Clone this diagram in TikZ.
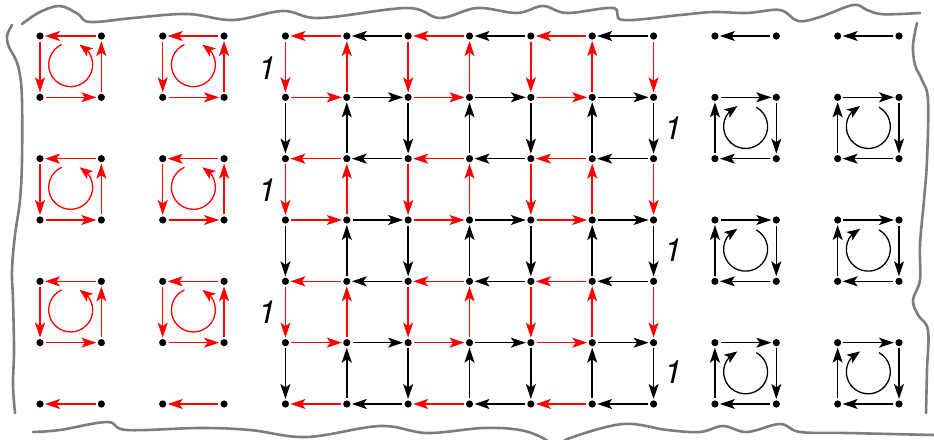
\documentclass[tikz,border=0pt]{standalone}
\usepackage{fontspec}
\setsansfont{TeX Gyre Heros}
\usetikzlibrary{arrows.meta,bending,calc}
\definecolor{myred}{RGB}{255,0,0}
\definecolor{bordergray}{RGB}{125,125,125}
\begin{document}
\begin{tikzpicture}[x=1pt,y=-1pt,
  dot/.style={circle,fill=black,inner sep=0pt,minimum size=7.2pt},
  edge/.style={line width=1.5pt,-{Stealth[length=15pt,width=10pt,inset=3.5pt]},shorten >=1.2pt,shorten <=2pt},
  circarrow/.style={line width=1.3pt,-{Stealth[length=13pt,width=10pt,inset=3pt]}},
  border/.style={draw=bordergray,line width=2.6pt,line cap=round,line join=round},
  lbl/.style={font=\sffamily\itshape\fontsize{32}{32}\selectfont,inner sep=0pt}]
\useasboundingbox (0,0) rectangle (934,439);

% all dots
\foreach \k in {0,...,14}{
  \foreach \j in {0,...,6}{
    \node[dot] (n\k-\j) at ({40+61.357*\k},{36+61.33*\j}) {};
  }
}

% main grid: columns 4..10
\foreach \j in {0,...,6}{
  \foreach \c in {0,...,5}{
    \pgfmathtruncatemacro\ka{\c+4}
    \pgfmathtruncatemacro\kb{\c+5}
    \ifodd\c\relax\def\ecol{black}\else\def\ecol{myred}\fi
    \ifodd\j\relax
      \draw[edge,\ecol] (n\ka-\j) -- (n\kb-\j);
    \else
      \draw[edge,\ecol] (n\kb-\j) -- (n\ka-\j);
    \fi
  }
}
\foreach \c in {0,...,6}{
  \foreach \j in {0,...,5}{
    \pgfmathtruncatemacro\kk{\c+4}
    \pgfmathtruncatemacro\jb{\j+1}
    \ifodd\j\relax\def\ecol{black}\else\def\ecol{myred}\fi
    \ifodd\c\relax
      \draw[edge,\ecol] (n\kk-\jb) -- (n\kk-\j);
    \else
      \draw[edge,\ecol] (n\kk-\j) -- (n\kk-\jb);
    \fi
  }
}

% left red squares (counterclockwise)
\foreach \a/\b in {0/1,2/3}{
  \foreach \t/\u in {0/1,2/3,4/5}{
    \draw[edge,myred] (n\b-\t) -- (n\a-\t);
    \draw[edge,myred] (n\a-\t) -- (n\a-\u);
    \draw[edge,myred] (n\a-\u) -- (n\b-\u);
    \draw[edge,myred] (n\b-\u) -- (n\b-\t);
    \coordinate (cl\a-\t) at ($(n\a-\t)!0.5!(n\b-\u)+(0,-2)$);
    \draw[circarrow,myred] ([shift={(-114:22)}]cl\a-\t) arc[start angle=-114,end angle=-426,radius=22];
  }
  \draw[edge,myred] (n\b-6) -- (n\a-6);
}

% right black squares (clockwise)
\foreach \a/\b in {11/12,13/14}{
  \foreach \t/\u in {1/2,3/4,5/6}{
    \draw[edge,black] (n\a-\t) -- (n\b-\t);
    \draw[edge,black] (n\b-\t) -- (n\b-\u);
    \draw[edge,black] (n\b-\u) -- (n\a-\u);
    \draw[edge,black] (n\a-\u) -- (n\a-\t);
    \coordinate (cr\a-\t) at ($(n\a-\t)!0.5!(n\b-\u)+(0,-1.5)$);
    \draw[circarrow,black] ([shift={(-61:22)}]cr\a-\t) arc[start angle=-61,end angle=248,radius=22];
  }
  \draw[edge,black] (n\b-0) -- (n\a-0);
}

% labels
\node[lbl] (l1) at (267,68) {1};
\node[lbl] (l2) at (267,190) {1};
\node[lbl] (l3) at (267,312) {1};
\node[lbl] (l4) at (673,128) {1};
\node[lbl] (l5) at (673,250) {1};
\node[lbl] (l6) at (673,372) {1};

% wavy border
\draw[border] plot[smooth,tension=0.6] coordinates {(22,24) (40,12) (60,6) (78,14) (90,22) (133,18) (187,14) (233,20) (283,11) (320,18) (407,8) (440,18) (477,8) (517,13) (543,6) (567,13) (613,8) (623,20) (680,15) (713,12) (747,13) (780,10) (798,21) (820,17) (853,5) (867,10) (880,14) (900,14) (920,13)};
\draw[border] plot[smooth,tension=0.6] coordinates {(12,25) (7,36) (9,47) (16,60) (20,75) (22,100) (22,160) (20,200) (15,235) (12,270) (13,300) (14,350) (13,385) (15,413)};
\draw[border] plot[smooth,tension=0.6] coordinates {(917,23) (913,45) (915,65) (922,80) (928,100) (927,160) (924,200) (920,245) (920,280) (913,300) (918,315) (928,330) (927,370) (926,413)};
\draw[border] plot[smooth,tension=0.6] coordinates {(33,432) (60,430) (107,422) (127,430) (200,428) (250,430) (307,437) (380,426) (427,433) (483,428) (520,430) (543,438) (556,447) (570,438) (623,424) (667,430) (700,432) (723,426) (747,432) (780,424) (800,432) (847,433) (890,434) (934,435)};
\end{tikzpicture}
\end{document}
